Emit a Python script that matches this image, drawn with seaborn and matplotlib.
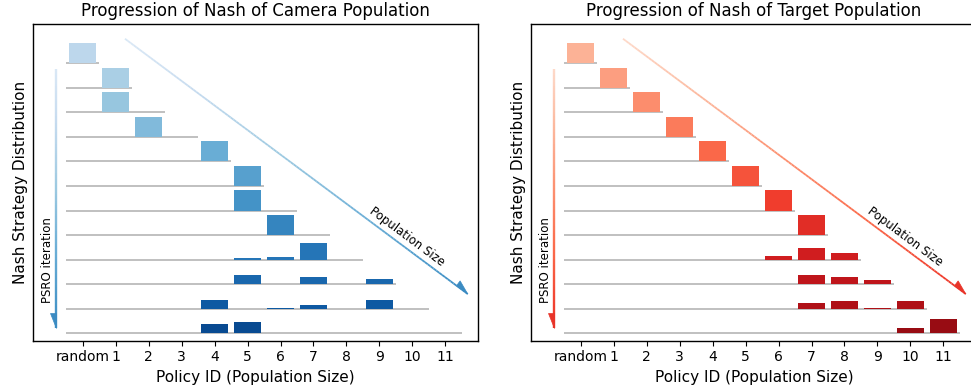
import numpy as np
import matplotlib
matplotlib.use("Agg")
import matplotlib.pyplot as plt
from matplotlib.collections import LineCollection
from matplotlib.patches import Polygon
from matplotlib.transforms import IdentityTransform
import seaborn as sns

# ---------------- data ----------------
tick_labels = ["random", "1", "2", "3", "4", "5", "6", "7", "8", "9", "10", "11"]

camera_nash = [
    [1.0],
    [0, 1.0],
    [0, 1.0, 0],
    [0, 0, 1.0, 0],
    [0, 0, 0, 0, 1.0],
    [0, 0, 0, 0, 0, 1.0],
    [0, 0, 0, 0, 0, 1.0, 0],
    [0, 0, 0, 0, 0, 0, 1.0, 0],
    [0, 0, 0, 0, 0, 0.09, 0.14, 0.82, 0],
    [0, 0, 0, 0, 0, 0.44, 0, 0.35, 0, 0.26],
    [0, 0, 0, 0, 0.42, 0, 0.03, 0.17, 0, 0.42, 0],
    [0, 0, 0, 0, 0.45, 0.55, 0, 0, 0, 0.03, 0, 0],
]

target_nash = [
    [1.0],
    [0, 1.0],
    [0, 0, 1.0],
    [0, 0, 0, 1.0],
    [0, 0, 0, 0, 1.0],
    [0, 0, 0, 0, 0, 1.0],
    [0, 0, 0, 0, 0, 0, 1.0],
    [0, 0, 0, 0, 0, 0, 0, 1.0],
    [0, 0, 0, 0, 0, 0, 0.2, 0.57, 0.33],
    [0, 0, 0, 0, 0, 0, 0, 0.45, 0.36, 0.21],
    [0, 0, 0, 0, 0, 0, 0, 0.27, 0.37, 0.03, 0.37],
    [0, 0, 0, 0, 0, 0, 0, 0, 0, 0.03, 0.26, 0.70],
]

titles = ["Progression of Nash of Camera Population",
          "Progression of Nash of Target Population"]
palettes = ["Blues", "Reds"]

# ---------------- style ----------------
sns.set_style("ticks")
plt.rcParams["font.family"] = ["DejaVu Sans"]
plt.rcParams["axes.edgecolor"] = "black"
plt.rcParams["xtick.color"] = "black"
plt.rcParams["text.color"] = "black"
plt.rcParams["axes.labelcolor"] = "black"

fig = plt.figure(figsize=(9.71, 3.88), dpi=100)
axes = [fig.add_axes([0.0343, 0.1219, 0.4583, 0.8162]),
        fig.add_axes([0.5472, 0.1219, 0.4583, 0.8162])]

BAR_SCALE = 0.82
BAR_W = 0.82


def gradient_arrow(ax, start, end, cmap, c0, c1, lw, head_len, head_w, side):
    n = 120
    xs = np.linspace(start[0], end[0], n + 1)
    ys = np.linspace(start[1], end[1], n + 1)
    pts = np.column_stack([xs, ys]).reshape(-1, 1, 2)
    segs = np.concatenate([pts[:-1], pts[1:]], axis=1)
    cols = cmap(np.linspace(c0, c1, n))
    lc = LineCollection(segs, colors=cols, linewidths=lw, capstyle="butt", zorder=3)
    ax.add_collection(lc)
    # half arrow head in display pixels
    p0 = ax.transData.transform(start)
    p1 = ax.transData.transform(end)
    u = (p1 - p0) / np.linalg.norm(p1 - p0)
    nrm = side * np.array([-u[1], u[0]])
    base = p1 - head_len * u
    verts = np.array([p1, base, base + head_w * nrm])
    poly = Polygon(verts, closed=True, facecolor=cmap(c1), edgecolor=cmap(c1),
                   lw=0.5, transform=IdentityTransform(), zorder=4)
    fig.add_artist(poly)
    return p0, p1


for ax, data, title, pal in zip(axes, [camera_nash, target_nash], titles, palettes):
    cmap = sns.color_palette(pal, as_cmap=True)
    n_rows = len(data)
    row_cols = cmap(np.linspace(0.28, 0.9, n_rows))
    ax.set_xlim(-1.5, 12)
    ax.set_ylim(-0.3, 12.6)
    for k, probs in enumerate(data):
        y0 = n_rows - 1 - k
        xs = np.arange(len(probs))
        ax.hlines(y0, -0.5, len(probs) - 0.5, color="#b5b5b5", lw=1.2, zorder=1)
        h = np.array(probs) * BAR_SCALE
        mask = h > 0
        ax.bar(xs[mask], h[mask], width=BAR_W, bottom=y0, color=row_cols[k],
               edgecolor="none", zorder=2)

    ax.set_xticks(np.arange(len(tick_labels)))
    ax.set_xticklabels(tick_labels, fontsize=10)
    ax.set_yticks([])
    ax.set_title(title, fontsize=12)
    ax.set_xlabel("Policy ID (Population Size)", fontsize=11)
    ax.set_ylabel("Nash Strategy Distribution", fontsize=11)
    for s in ax.spines.values():
        s.set_linewidth(1.0)

    # vertical PSRO iteration arrow
    gradient_arrow(ax, (-0.8, 10.77), (-0.8, 0.22), cmap, 0.15, 0.65, 1.7, 15, 6.5, -1)
    ax.text(-1.06, 3.0, "PSRO iteration", rotation=90, fontsize=8.5,
            ha="center", va="center")

    # diagonal population size arrow
    p0, p1 = gradient_arrow(ax, (1.28, 12.0), (11.68, 1.6), cmap, 0.15, 0.65, 1.3, 14, 6, 1)
    ang = np.degrees(np.arctan2(p1[1] - p0[1], p1[0] - p0[0]))
    ax.text(9.83, 3.95, "Population Size", rotation=ang, fontsize=8.5,
            ha="center", va="center", rotation_mode="anchor")

fig.savefig("out.png", dpi=100)
